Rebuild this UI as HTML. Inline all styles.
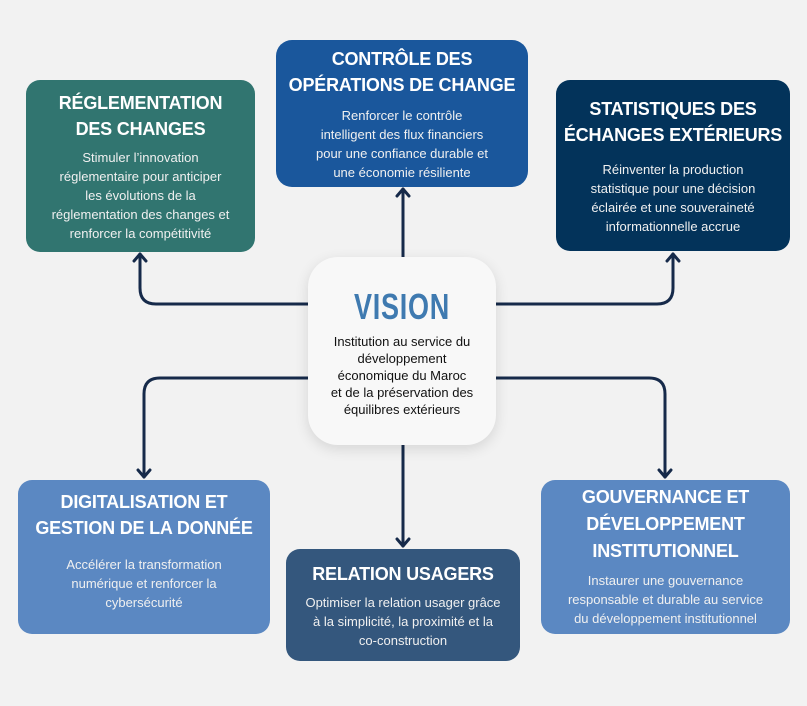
<!DOCTYPE html>
<html><head><meta charset="utf-8"><style>
*{margin:0;padding:0;box-sizing:border-box}
body{width:807px;height:706px;background:#f2f2f2;position:relative;overflow:hidden;font-family:"Liberation Sans","DejaVu Sans",sans-serif}
.b{position:absolute;border-radius:14px;color:#fff;text-align:center;display:flex;flex-direction:column;align-items:center;justify-content:center}
.t{font-weight:bold;font-size:18px;line-height:26px;letter-spacing:-0.2px}
.d{font-size:13px;line-height:19px;color:#f0f0f0}
svg{position:absolute;left:0;top:0}
</style></head><body>
<svg width="807" height="706">
<g fill="none" stroke="#162a4a" stroke-width="3" stroke-linecap="round" stroke-linejoin="round">
<path d="M403 257 V189"/><path d="M397 196 L403 189 L409 196"/>
<path d="M310 304 H156 Q140 304 140 288 V254"/><path d="M134 261 L140 254 L146 261"/>
<path d="M494 304 H657 Q673 304 673 288 V254"/><path d="M667 261 L673 254 L679 261"/>
<path d="M310 378 H160 Q144 378 144 394 V477"/><path d="M138 470 L144 477 L150 470"/>
<path d="M494 378 H649 Q665 378 665 394 V477"/><path d="M659 470 L665 477 L671 470"/>
<path d="M403 443 V546"/><path d="M397 539 L403 546 L409 539"/>
</g></svg>
<div class="b" style="left:26px;top:80px;width:229px;height:172px;background:#317570">
<div class="t">RÉGLEMENTATION<br>DES CHANGES</div>
<div class="d" style="margin-top:6px">Stimuler l’innovation<br>réglementaire pour anticiper<br>les évolutions de la<br>réglementation des changes et<br>renforcer la compétitivité</div></div>
<div class="b" style="left:276px;top:40px;width:252px;height:147px;background:#1a579c;border-radius:16px">
<div class="t">CONTRÔLE DES<br>OPÉRATIONS DE CHANGE</div>
<div class="d" style="margin-top:8px">Renforcer le contrôle<br>intelligent des flux financiers<br>pour une confiance durable et<br>une économie résiliente</div></div>
<div class="b" style="left:556px;top:80px;width:234px;height:171px;background:#03335a">
<div class="t">STATISTIQUES DES<br>ÉCHANGES EXTÉRIEURS</div>
<div class="d" style="margin-top:12px">Réinventer la production<br>statistique pour une décision<br>éclairée et une souveraineté<br>informationnelle accrue</div></div>
<div class="b" style="left:308px;top:257px;width:188px;height:188px;background:#f8f8f8;border-radius:30px;box-shadow:0 4px 14px rgba(0,0,0,0.12);justify-content:flex-start;padding-top:30px">
<div style="font-weight:bold;font-size:36px;line-height:40px;color:#3f7ab0;transform:scaleX(0.75);letter-spacing:1px">VISION</div>
<div style="font-size:13px;line-height:17px;color:#111;margin-top:6px">Institution au service du<br>développement<br>économique du Maroc<br>et de la préservation des<br>équilibres extérieurs</div></div>
<div class="b" style="left:18px;top:480px;width:252px;height:154px;background:#5b88c2;justify-content:flex-start;padding-top:9px">
<div class="t">DIGITALISATION ET<br>GESTION DE LA DONNÉE</div>
<div class="d" style="margin-top:14px">Accélérer la transformation<br>numérique et renforcer la<br>cybersécurité</div></div>
<div class="b" style="left:286px;top:549px;width:234px;height:112px;background:#34577d">
<div class="t">RELATION USAGERS</div>
<div class="d" style="margin-top:6px">Optimiser la relation usager grâce<br>à la simplicité, la proximité et la<br>co-construction</div></div>
<div class="b" style="left:541px;top:480px;width:249px;height:154px;background:#5b88c2;justify-content:flex-start;padding-top:4px">
<div class="t" style="line-height:27px">GOUVERNANCE ET<br>DÉVELOPPEMENT<br>INSTITUTIONNEL</div>
<div class="d" style="margin-top:6px">Instaurer une gouvernance<br>responsable et durable au service<br>du développement institutionnel</div></div>
</body></html>
